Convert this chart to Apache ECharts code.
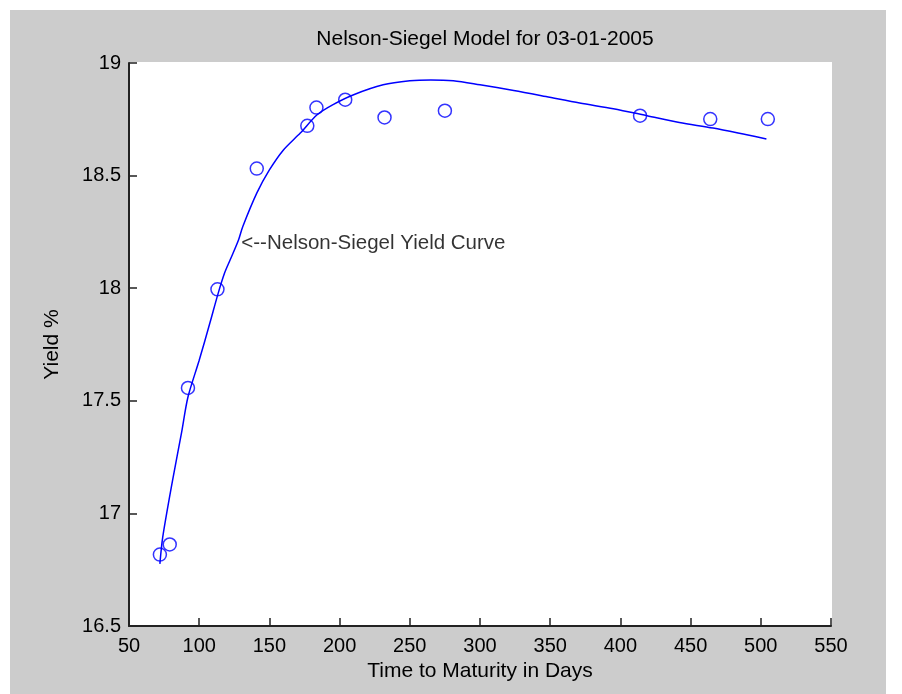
<!DOCTYPE html>
<html>
<head>
<meta charset="utf-8">
<script src="https://cdn.jsdelivr.net/npm/echarts@6/dist/echarts.min.js"></script>
<style>
html,body{margin:0;padding:0;background:#ffffff;}
#chart{width:902px;height:694px;}
</style>
</head>
<body>
<div id="chart"></div>
<script>
// Observed market yields (Time to maturity in days, Yield %)
var obsDays  = [72, 79, 92, 113, 141, 177, 183.5, 204, 232, 275, 414, 464, 505];
var obsYield = [16.817, 16.862, 17.557, 17.995, 18.531, 18.721, 18.802, 18.837, 18.758, 18.788, 18.766, 18.751, 18.751];

// Fitted Nelson-Siegel curve
var curveDays  = [72, 74, 81, 87.5, 92, 100, 107.5, 113.5, 118, 122, 128, 131, 141, 150, 160, 172, 184, 195, 210, 231, 250, 265, 281, 300, 324, 347, 371, 395, 419, 442, 466, 490, 504];
var curveYield = [16.776, 16.894, 17.146, 17.361, 17.517, 17.68, 17.843, 17.977, 18.066, 18.125, 18.214, 18.273, 18.422, 18.525, 18.614, 18.689, 18.770, 18.814, 18.859, 18.903, 18.921, 18.925, 18.921, 18.903, 18.878, 18.851, 18.822, 18.797, 18.766, 18.736, 18.711, 18.681, 18.663];

var xTicks = [50, 100, 150, 200, 250, 300, 350, 400, 450, 500, 550];
var yTicks = [16.5, 17, 17.5, 18, 18.5, 19];

var annotationPos = [130, 18.2];
var annotationText = '<--Nelson-Siegel Yield Curve';
var titleText = 'Nelson-Siegel Model for 03-01-2005';
var xName = 'Time to Maturity in Days';
var yName = 'Yield %';

function pairs(xs, ys){ return xs.map(function(x,i){ return [x, ys[i]]; }); }

var FONT = 'Liberation Sans';
var chart = echarts.init(document.getElementById('chart'), null, {renderer:'canvas'});
chart.setOption({
  animation: false,
  backgroundColor: '#ffffff',
  graphic: [{
    type: 'rect', z: -10, silent: true,
    shape: {x: 10, y: 10, width: 876, height: 684},
    style: {fill: '#cccccc'}
  }, {
    type: 'rect', z: -9, silent: true,
    shape: {x: 129, y: 62, width: 703, height: 564},
    style: {fill: '#ffffff'}
  }],
  title: {
    text: titleText,
    left: 480,
    textAlign: 'center',
    top: 24,
    textStyle: {fontFamily: FONT, fontSize: 21, fontWeight: 'normal', color: '#000'}
  },
  grid: {left: 129, right: 71, top: 63, bottom: 68, containLabel: false},
  xAxis: {
    type: 'value',
    min: 50, max: 550, interval: 50,
    name: xName, nameLocation: 'middle', nameGap: 34,
    nameTextStyle: {fontFamily: FONT, fontSize: 21, color: '#000'},
    axisLine: {show: true, onZero: false, lineStyle: {color: '#222', width: 2}},
    axisTick: {show: true, inside: true, length: 8, lineStyle: {color: '#222', width: 1.5}},
    axisLabel: {fontFamily: FONT, fontSize: 20, color: '#000', margin: 10},
    splitLine: {show: false}
  },
  yAxis: {
    type: 'value',
    min: 16.5, max: 19, interval: 0.5,
    name: yName, nameLocation: 'middle', nameGap: 66,
    nameTextStyle: {fontFamily: FONT, fontSize: 21, color: '#000'},
    axisLine: {show: true, onZero: false, lineStyle: {color: '#222', width: 2}},
    axisTick: {show: true, inside: true, length: 8, lineStyle: {color: '#222', width: 1.5}},
    axisLabel: {fontFamily: FONT, fontSize: 20, color: '#000', margin: 8,
      formatter: function(v){ return String(+v.toFixed(1)); }},
    splitLine: {show: false}
  },
  series: [{
    type: 'line',
    data: pairs(curveDays, curveYield),
    smooth: 0.3,
    showSymbol: false,
    lineStyle: {color: '#0000ff', width: 1.5},
    z: 2
  }, {
    type: 'scatter',
    data: pairs(obsDays, obsYield),
    symbol: 'circle',
    symbolSize: 13,
    itemStyle: {color: 'rgba(0,0,0,0)', borderColor: '#0000ff', borderWidth: 1.5},
    z: 3
  }, {
    type: 'scatter',
    data: [annotationPos],
    symbolSize: 0,
    label: {show: true, position: 'right', distance: 0, formatter: annotationText,
      fontFamily: FONT, fontSize: 20.5, color: '#000'},
    z: 4
  }]
});
</script>
</body>
</html>
